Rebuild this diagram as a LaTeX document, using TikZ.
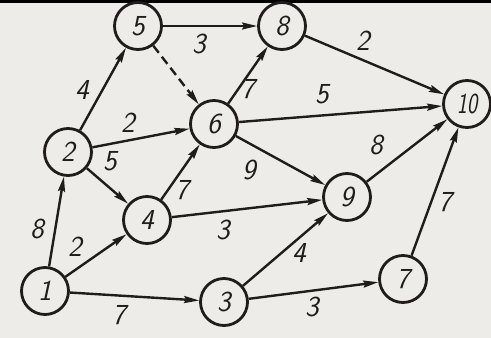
\documentclass[tikz,border=0pt]{standalone}
\usetikzlibrary{arrows.meta}
\definecolor{paper}{RGB}{238,236,232}
\definecolor{ink}{RGB}{32,28,28}
\newcommand{\wfont}{\fontsize{29}{29}\selectfont\sffamily\slshape}

\begin{document}
\begin{tikzpicture}[x=1pt, y=-1pt, line width=2.4pt,
  >={Stealth[length=15pt,width=7pt,inset=2pt]},
  vtx/.style={circle, draw=ink, line width=2.8pt, minimum size=47pt, inner sep=0pt, font=\wfont, text=ink},
  arcline/.style={draw=ink, ->},
  wlabel/.style={font=\wfont, text=ink, inner sep=0pt}]
  \fill[paper] (0,0) rectangle (491,338);
  \useasboundingbox (0,0) rectangle (491,338);
  \fill[black] (0,0) rectangle (491,3);
  % vertices
  \node[vtx] (v1) at (45,291) {1};
  \node[vtx] (v2) at (68,152) {2};
  \node[vtx] (v3) at (224,302) {3};
  \node[vtx] (v4) at (147,220) {4};
  \node[vtx] (v5) at (138,26) {5};
  \node[vtx] (v6) at (214,124) {6};
  \node[vtx] (v7) at (403,279) {7};
  \node[vtx] (v8) at (282,26) {8};
  \node[vtx] (v9) at (347,197) {9};
  \node[vtx] (v10) at (467,104) {\scalebox{0.75}[1]{10}};
  % arcs
  \draw[arcline] (v1) -- (v2);
  \draw[arcline] (v1) -- (v4);
  \draw[arcline] (v1) -- (v3);
  \draw[arcline] (v2) -- (v5);
  \draw[arcline] (v2) -- (v6);
  \draw[arcline] (v2) -- (v4);
  \draw[arcline] (v4) -- (v6);
  \draw[arcline] (v4) -- (v9);
  \draw[arcline] (v5) -- (v8);
  \draw[arcline, dash pattern=on 9pt off 5pt] (v5) -- (v6);
  \draw[arcline] (v6) -- (v8);
  \draw[arcline] (v6) -- (v10);
  \draw[arcline] (v6) -- (v9);
  \draw[arcline] (v8) -- (v10);
  \draw[arcline] (v9) -- (v10);
  \draw[arcline] (v3) -- (v9);
  \draw[arcline] (v3) -- (v7);
  \draw[arcline] (v7) -- (v10);
  % weights
  \node[wlabel] (w12) at (37,229) {8};
  \node[wlabel] (w14) at (75,247) {2};
  \node[wlabel] (w13) at (119,315) {7};
  \node[wlabel] (w25) at (82,90) {4};
  \node[wlabel] (w26) at (128,123) {2};
  \node[wlabel] (w24) at (110,161) {5};
  \node[wlabel] (w46) at (182,190) {7};
  \node[wlabel] (w49) at (223,230) {3};
  \node[wlabel] (w58) at (199,44) {3};
  \node[wlabel] (w68) at (248,89) {7};
  \node[wlabel] (w610) at (322,94) {5};
  \node[wlabel] (w69) at (249,170) {9};
  \node[wlabel] (w810) at (363,41) {2};
  \node[wlabel] (w910) at (376,145) {8};
  \node[wlabel] (w39) at (299,253) {4};
  \node[wlabel] (w37) at (312,307) {3};
  \node[wlabel] (w710) at (445,202) {7};
\end{tikzpicture}
\end{document}
